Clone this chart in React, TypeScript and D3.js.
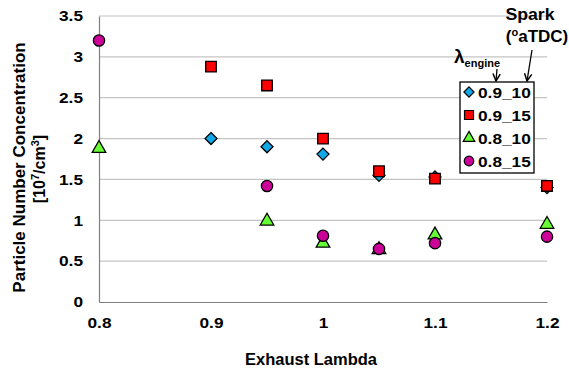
import { useEffect, useRef } from 'react';
import * as d3 from 'd3';

const lambdas = [0.8, 0.9, 0.95, 1.0, 1.05, 1.1, 1.2];

const seriesNames = ['0.9_10', '0.9_15', '0.8_10', '0.8_15'];

// null = not measured at that lambda
const s09_10 = [null, 2.0, 1.9, 1.81, 1.55, 1.53, 1.4];
const s09_15 = [null, 2.88, 2.65, 2.0, 1.6, 1.51, 1.42];
const s08_10 = [1.88, null, 0.99, 0.72, 0.64, 0.82, 0.95];
const s08_15 = [3.2, null, 1.42, 0.81, 0.65, 0.72, 0.8];

const xTicks = [0.8, 0.9, 1.0, 1.1, 1.2];
const yTicks = [0, 0.5, 1, 1.5, 2, 2.5, 3, 3.5];

// stretch text horizontally (reference glyphs are a bit wider than Arial)
const widen = (sel: any, k: number) => {
  sel.each(function (this: SVGTextElement) {
    const len = this.getComputedTextLength();
    d3.select(this).attr('textLength', len * k).attr('lengthAdjust', 'spacingAndGlyphs');
  });
};

const App = () => {
  const svgRef = useRef<SVGSVGElement>(null);

  useEffect(() => {
    const width = 569;
    const height = 369;
    const margin = { top: 16, right: 22, bottom: 67, left: 99 };

    const svg = d3.select(svgRef.current);
    svg.selectAll('*').remove();
    svg.attr('width', width).attr('height', height);

    const font = 'Liberation Sans, Arial, sans-serif';

    const x = d3.scaleLinear().domain([0.8, 1.2]).range([margin.left, width - margin.right]);
    const y = d3.scaleLinear().domain([0, 3.5]).range([height - margin.bottom, margin.top]);

    // gridlines
    svg.append('g')
      .selectAll('line')
      .data(yTicks.filter((t) => t > 0))
      .enter()
      .append('line')
      .attr('x1', x(0.8))
      .attr('x2', x(1.2))
      .attr('y1', (d) => y(d))
      .attr('y2', (d) => y(d))
      .attr('stroke', '#c4c4c4')
      .attr('stroke-width', 1.2);

    // axes
    const xAxis = d3.axisBottom(x).tickValues(xTicks).tickSize(0).tickPadding(15)
      .tickFormat((d) => d3.format('')(+d));
    const gx = svg.append('g')
      .attr('transform', `translate(0,${y(0)})`)
      .call(xAxis);
    gx.select('.domain').attr('stroke', '#808080').attr('stroke-width', 1.2);
    const gxt = gx.selectAll('text')
      .style('font-family', font)
      .style('font-size', '15px')
      .style('font-weight', 'bold')
      .attr('fill', '#000');
    widen(gxt, 1.15);

    const yAxis = d3.axisLeft(y).tickValues(yTicks).tickSize(0).tickPadding(16)
      .tickFormat((d) => d3.format('')(+d));
    const gy = svg.append('g')
      .attr('transform', `translate(${x(0.8)},0)`)
      .call(yAxis);
    gy.select('.domain').attr('stroke', '#808080').attr('stroke-width', 1.2);
    const gyt = gy.selectAll('text')
      .style('font-family', font)
      .style('font-size', '15px')
      .style('font-weight', 'bold')
      .attr('fill', '#000');
    widen(gyt, 1.15);

    // axis titles
    svg.append('text')
      .attr('x', 311)
      .attr('y', 365)
      .attr('text-anchor', 'middle')
      .style('font-family', font)
      .style('font-size', '16.5px')
      .style('font-weight', 'bold')
      .text('Exhaust Lambda');

    svg.append('text')
      .attr('transform', 'translate(25,167.5) rotate(-90)')
      .attr('text-anchor', 'middle')
      .style('font-family', font)
      .style('font-size', '17px')
      .style('font-weight', 'bold')
      .text('Particle Number Concentration');

    const t2 = svg.append('text')
      .attr('transform', 'translate(45,169) rotate(-90)')
      .attr('text-anchor', 'middle')
      .style('font-family', font)
      .style('font-size', '16px')
      .style('font-weight', 'bold');
    t2.append('tspan').text('[10');
    t2.append('tspan').attr('dy', -6).style('font-size', '11px').text('7');
    t2.append('tspan').attr('dy', 6).text('/cm');
    t2.append('tspan').attr('dy', -6).style('font-size', '11px').text('3');
    t2.append('tspan').attr('dy', 6).text(']');

    // markers
    const diamond = {
      draw(ctx: any, size: number) {
        const r = Math.sqrt(size / 2);
        ctx.moveTo(0, -r);
        ctx.lineTo(r, 0);
        ctx.lineTo(0, r);
        ctx.lineTo(-r, 0);
        ctx.closePath();
      },
    };
    const styles = [
      { type: diamond, size: 72, fill: '#10a8e8' },
      { type: d3.symbolSquare, size: 112, fill: '#ff0000' },
      { type: d3.symbolTriangle, size: 80, fill: '#66ff33' },
      { type: d3.symbolCircle, size: 100, fill: '#cc0099' },
    ];
    const allSeries = [s09_10, s09_15, s08_10, s08_15];

    allSeries.forEach((vals, i) => {
      const st = styles[i];
      const sym = d3.symbol().type(st.type as any).size(st.size);
      const pts = lambdas
        .map((l, j) => ({ l, v: vals[j] }))
        .filter((p) => p.v !== null) as { l: number; v: number }[];
      svg.append('g')
        .selectAll('path')
        .data(pts)
        .enter()
        .append('path')
        .attr('d', sym() as string)
        .attr('transform', (d) => `translate(${x(d.l)},${y(d.v)})`)
        .attr('fill', st.fill)
        .attr('stroke', '#000')
        .attr('stroke-width', 1.3);
    });

    // legend
    const lg = svg.append('g').attr('transform', 'translate(460,82)');
    lg.append('rect')
      .attr('width', 74)
      .attr('height', 91)
      .attr('fill', '#fff')
      .attr('stroke', '#000')
      .attr('stroke-width', 1.3);
    seriesNames.forEach((name, i) => {
      const st = styles[i];
      const sym = d3.symbol().type(st.type as any).size(st.size * 0.72);
      const cy = 10 + i * 23;
      lg.append('path')
        .attr('d', sym() as string)
        .attr('transform', `translate(9,${cy})`)
        .attr('fill', st.fill)
        .attr('stroke', '#000')
        .attr('stroke-width', 1.2);
      const t = lg.append('text')
        .attr('x', 18)
        .attr('y', cy + 5.5)
        .style('font-family', font)
        .style('font-size', '15px')
        .style('font-weight', 'bold')
        .text(name);
      widen(t, 1.15);
    });

    // annotations
    const sparkT = svg.append('text')
      .attr('x', 530)
      .attr('y', 20)
      .attr('text-anchor', 'middle')
      .style('font-family', font)
      .style('font-weight', 'bold')
      .style('font-size', '17px')
      .text('Spark');
    widen(sparkT, 1.04);

    const sp = svg.append('text')
      .attr('x', 537)
      .attr('y', 42)
      .attr('text-anchor', 'middle')
      .style('font-family', font)
      .style('font-weight', 'bold')
      .style('font-size', '17px');
    sp.append('tspan').text('(');
    sp.append('tspan').attr('dy', -6).style('font-size', '11px').text('o');
    sp.append('tspan').attr('dy', 6).text('aTDC)');

    const lam = svg.append('text')
      .attr('x', 454)
      .attr('y', 63)
      .style('font-family', font)
      .style('font-weight', 'bold');
    lam.append('tspan').style('font-size', '19px').text('λ');
    lam.append('tspan').attr('dy', 4).style('font-size', '11px').text('engine');

    const defs = svg.append('defs');
    defs.append('marker')
      .attr('id', 'arr')
      .attr('viewBox', '0 0 10 10')
      .attr('refX', 9)
      .attr('refY', 5)
      .attr('markerWidth', 7)
      .attr('markerHeight', 7)
      .attr('orient', 'auto')
      .append('path')
      .attr('d', 'M1,1 L9,5 L1,9')
      .attr('fill', 'none')
      .attr('stroke', '#000')
      .attr('stroke-width', 1.6);

    svg.append('line')
      .attr('x1', 497).attr('y1', 69).attr('x2', 496).attr('y2', 81)
      .attr('stroke', '#000').attr('stroke-width', 1.3)
      .attr('marker-end', 'url(#arr)');
    svg.append('line')
      .attr('x1', 532).attr('y1', 50).attr('x2', 527).attr('y2', 81)
      .attr('stroke', '#000').attr('stroke-width', 1.3)
      .attr('marker-end', 'url(#arr)');
  }, []);

  return (
    <div style={{ position: 'absolute', left: 0, top: 0, background: '#fff' }}>
      <svg ref={svgRef}></svg>
    </div>
  );
};

export default App;
